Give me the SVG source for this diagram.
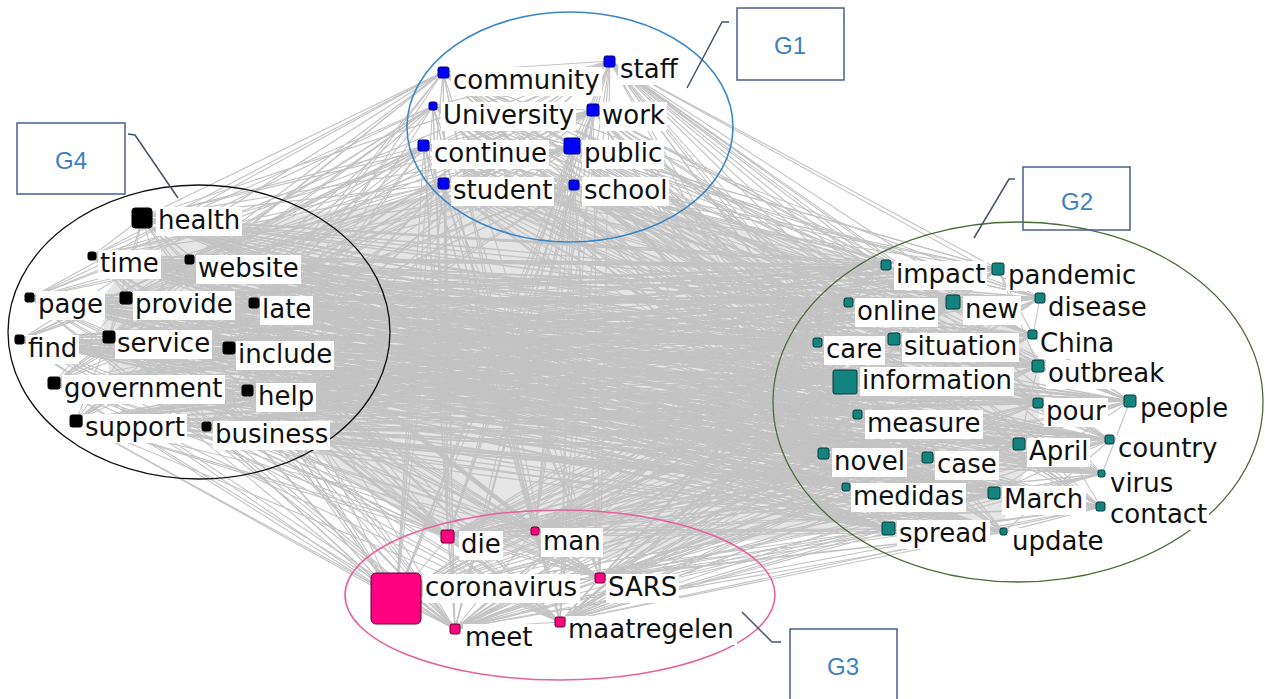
<svg xmlns="http://www.w3.org/2000/svg" width="1265" height="699" viewBox="0 0 1265 699">
<style>
.e{fill:none;stroke:#c3c3c3;stroke-width:1.1;stroke-linejoin:round}
.m{stroke-width:1.4}
.lb{fill:#fff}
.t{font-family:"DejaVu Sans",Verdana,sans-serif;font-size:26px;fill:#111}
.g1{fill:#0000ff;stroke:#000070;stroke-width:1}
.g2{fill:#13837f;stroke:#063b38;stroke-width:1}
.g3{fill:#ff0080;stroke:#5c0030;stroke-width:1}
.g4{fill:#000;stroke:#000;stroke-width:1}
.cb{fill:none;stroke:#4a5d91;stroke-width:1.5}
.cl{fill:none;stroke:#44546a;stroke-width:1.5}
.ct{font-family:"Liberation Sans",Arial,sans-serif;font-size:24px;fill:#3d7fc2;text-anchor:middle}
</style>
<rect width="1265" height="699" fill="#fff"/>
<g id="connectors">
<polygon points="150,240 300,215 440,195 580,195 760,230 886,265 1000,300 1040,360 1038,440 1004,520 889,529 700,545 600,560 450,545 300,445 207,427 110,380 100,300" fill="#c6c6c6" opacity="0.45"/>
<path class="e m" d="M142 218L886 265 126 298 998 269 229 348 849 303 207 427 953 302 30 298 1040 298 109 337 818 343 76 421 894 339 190 260 1033 335 20 340 845 382 248 391 1038 366 92 256 858 415 254 303 1038 403 54 383 1130 401 142 218 824 454 126 298 928 458 229 348 1019 444 207 427 1110 440 30 298 1102 474 109 337 846 487 76 421 994 493 190 260 1101 507 20 340 889 529 248 391 1004 532 92 256"/>
<path class="e m" d="M229 348L886 265 207 427 998 269 30 298 849 303 109 337 953 302 76 421 1040 298 190 260 818 343 20 340 894 339 248 391 1033 335 92 256 845 382 254 303 1038 366 54 383 858 415 142 218 1038 403 126 298 1130 401 229 348 824 454 207 427 928 458 30 298 1019 444 109 337 1110 440 76 421 1102 474 190 260 846 487 20 340 994 493 248 391 1101 507 92 256 889 529 254 303 1004 532 54 383"/>
<path class="e m" d="M30 298L886 265 109 337 998 269 76 421 849 303 190 260 953 302 20 340 1040 298 248 391 818 343 92 256 894 339 254 303 1033 335 54 383 845 382 142 218 1038 366 126 298 858 415 229 348 1038 403 207 427 1130 401 30 298 824 454 109 337 928 458 76 421 1019 444 190 260 1110 440 20 340 1102 474 248 391 846 487 92 256 994 493 254 303 1101 507 54 383 889 529 142 218 1004 532 126 298"/>
<path class="e m" d="M76 421L886 265 190 260 998 269 20 340 849 303 248 391 953 302 92 256 1040 298 254 303 818 343 54 383 894 339 142 218 1033 335 126 298 845 382 229 348 1038 366 207 427 858 415 30 298 1038 403 109 337 1130 401 76 421 824 454 190 260 928 458 20 340 1019 444 248 391 1110 440 92 256 1102 474 254 303 846 487 54 383 994 493 142 218 1101 507 126 298 889 529 229 348 1004 532 207 427"/>
<path class="e m" d="M20 340L886 265 248 391 998 269 92 256 849 303 254 303 953 302 54 383 1040 298 142 218 818 343 126 298 894 339 229 348 1033 335 207 427 845 382 30 298 1038 366 109 337 858 415 76 421 1038 403 190 260 1130 401 20 340 824 454 248 391 928 458 92 256 1019 444 254 303 1110 440 54 383 1102 474 142 218 846 487 126 298 994 493 229 348 1101 507 207 427 889 529 30 298 1004 532 109 337"/>
<path class="e m" d="M92 256L886 265 254 303 998 269 54 383 849 303 142 218 953 302 126 298 1040 298 229 348 818 343 207 427 894 339 30 298 1033 335 109 337 845 382 76 421 1038 366 190 260 858 415 20 340 1038 403 248 391 1130 401 92 256 824 454 254 303 928 458 54 383 1019 444 142 218 1110 440 126 298 1102 474 229 348 846 487 207 427 994 493 30 298 1101 507 109 337 889 529 76 421 1004 532 190 260"/>
<path class="e m" d="M54 383L886 265 142 218 998 269 126 298 849 303 229 348 953 302 207 427 1040 298 30 298 818 343 109 337 894 339 76 421 1033 335 190 260 845 382 20 340 1038 366 248 391 858 415 92 256 1038 403 254 303 1130 401 54 383 824 454 142 218 928 458 126 298 1019 444 229 348 1110 440 207 427 1102 474 30 298 846 487 109 337 994 493 76 421 1101 507 190 260 889 529 20 340 1004 532 248 391"/>
<path class="e" d="M443 72L886 265 610 61 998 269 433 106 849 303 593 110 953 302 424 146 1040 298 572 146 818 343 444 184 894 339 574 185 1033 335 443 72 845 382 610 61 1038 366 433 106 858 415 593 110 1038 403 424 146 1130 401 572 146 824 454 444 184 928 458 574 185 1019 444 443 72 1110 440 610 61 1102 474 433 106 846 487 593 110 994 493 424 146 1101 507 572 146 889 529 444 184 1004 532 574 185"/>
<path class="e" d="M593 110L886 265 424 146 998 269 572 146 849 303 444 184 953 302 574 185 1040 298 443 72 818 343 610 61 894 339 433 106 1033 335 593 110 845 382 424 146 1038 366 572 146 858 415 444 184 1038 403 574 185 1130 401 443 72 824 454 610 61 928 458 433 106 1019 444 593 110 1110 440 424 146 1102 474 572 146 846 487 444 184 994 493 574 185 1101 507 443 72 889 529 610 61 1004 532 433 106"/>
<path class="e" d="M572 146L886 265 444 184 998 269 574 185 849 303 443 72 953 302 610 61 1040 298 433 106 818 343 593 110 894 339 424 146 1033 335 572 146 845 382 444 184 1038 366 574 185 858 415 443 72 1038 403 610 61 1130 401 433 106 824 454 593 110 928 458 424 146 1019 444 572 146 1110 440 444 184 1102 474 574 185 846 487 443 72 994 493 610 61 1101 507 433 106 889 529 593 110 1004 532 424 146"/>
<path class="e" d="M443 72L142 218 610 61 126 298 433 106 229 348 593 110 207 427 424 146 30 298 572 146 109 337 444 184 76 421 574 185 190 260 443 72 20 340 610 61 248 391 433 106 92 256 593 110 254 303 424 146 54 383 572 146"/>
<path class="e" d="M593 110L142 218 424 146 126 298 572 146 229 348 444 184 207 427 574 185 30 298 443 72 109 337 610 61 76 421 433 106 190 260 593 110 20 340 424 146 248 391 572 146 92 256 444 184 254 303 574 185 54 383 443 72"/>
<path class="e" d="M572 146L142 218 444 184 126 298 574 185 229 348 443 72 207 427 610 61 30 298 433 106 109 337 593 110 76 421 424 146 190 260 572 146 20 340 444 184 248 391 574 185 92 256 443 72 254 303 610 61 54 383 433 106"/>
<path class="e" d="M448 537L886 265 535 530 998 269 396 599 849 303 600 578 953 302 455 629 1040 298 560 622 818 343 448 537 894 339 535 530 1033 335 396 599 845 382 600 578 1038 366 455 629 858 415 560 622 1038 403 448 537 1130 401 535 530 824 454 396 599 928 458 600 578 1019 444 455 629 1110 440 560 622 1102 474 448 537 846 487 535 530 994 493 396 599 1101 507 600 578 889 529 455 629 1004 532 560 622"/>
<path class="e" d="M396 599L886 265 600 578 998 269 455 629 849 303 560 622 953 302 448 537 1040 298 535 530 818 343 396 599 894 339 600 578 1033 335 455 629 845 382 560 622 1038 366 448 537 858 415 535 530 1038 403 396 599 1130 401 600 578 824 454 455 629 928 458 560 622 1019 444 448 537 1110 440 535 530 1102 474 396 599 846 487 600 578 994 493 455 629 1101 507 560 622 889 529 448 537 1004 532 535 530"/>
<path class="e" d="M455 629L886 265 560 622 998 269 448 537 849 303 535 530 953 302 396 599 1040 298 600 578 818 343 455 629 894 339 560 622 1033 335 448 537 845 382 535 530 1038 366 396 599 858 415 600 578 1038 403 455 629 1130 401 560 622 824 454 448 537 928 458 535 530 1019 444 396 599 1110 440 600 578 1102 474 455 629 846 487 560 622 994 493 448 537 1101 507 535 530 889 529 396 599 1004 532 600 578"/>
<path class="e" d="M448 537L142 218 535 530 126 298 396 599 229 348 600 578 207 427 455 629 30 298 560 622 109 337 448 537 76 421 535 530 190 260 396 599 20 340 600 578 248 391 455 629 92 256 560 622 254 303 448 537 54 383 535 530"/>
<path class="e" d="M396 599L142 218 600 578 126 298 455 629 229 348 560 622 207 427 448 537 30 298 535 530 109 337 396 599 76 421 600 578 190 260 455 629 20 340 560 622 248 391 448 537 92 256 535 530 254 303 396 599 54 383 600 578"/>
<path class="e" d="M455 629L142 218 560 622 126 298 448 537 229 348 535 530 207 427 396 599 30 298 600 578 109 337 455 629 76 421 560 622 190 260 448 537 20 340 535 530 248 391 396 599 92 256 600 578 254 303 455 629 54 383 560 622"/>
<path class="e" d="M448 537L443 72 535 530 610 61 396 599 433 106 600 578 593 110 455 629 424 146 560 622 572 146 448 537 444 184 535 530 574 185 396 599"/>
<path class="e" d="M396 599L443 72 600 578 610 61 455 629 433 106 560 622 593 110 448 537 424 146 535 530 572 146 396 599 444 184 600 578 574 185 455 629"/>
<path class="e" d="M455 629L443 72 560 622 610 61 448 537 433 106 535 530 593 110 396 599 424 146 600 578 572 146 455 629 444 184 560 622 574 185 448 537"/>
<path class="e" d="M142 218L92 256 254 303 30 298 229 348 20 340 248 391 54 383 207 427 76 421 190 260 109 337 126 298 142 218 207 427 20 340 190 260 30 298 248 391 92 256 229 348 54 383 126 298 254 303 76 421 109 337 142 218"/>
<path class="e" d="M1130 401L1019 444 1110 440 994 493 1102 474 1038 403 1101 507 1019 444 1038 366 1130 401 1038 403 1110 440 1004 532 1101 507 994 493 1130 401 1102 474 1019 444 1130 401 1033 335 953 302 1040 298 1033 335 998 269 1038 366 886 265 953 302 1038 403 894 339 1019 444 928 458 994 493 889 529 1004 532 846 487 824 454 845 382"/>
<path class="e" d="M443 72L610 61 433 106 593 110 424 146 572 146 444 184 574 185 443 72 572 146 610 61 444 184 593 110 424 146 574 185 433 106 572 146"/>
<path class="e" d="M396 599L448 537 535 530 600 578 560 622 455 629 396 599 600 578 448 537 560 622 535 530 455 629 448 537"/>
</g>
<g id="clusters">
<ellipse id="ring-g1" cx="570" cy="127" rx="163" ry="115" fill="none" stroke="#3a86c8" stroke-width="1.6"/>
<ellipse id="ring-g4" cx="199" cy="332" rx="191" ry="147" fill="none" stroke="#111" stroke-width="1.3"/>
<ellipse id="ring-g2" cx="1018" cy="402" rx="245" ry="180" fill="none" stroke="#4b6b35" stroke-width="1.3"/>
<ellipse id="ring-g3" cx="560" cy="595" rx="215" ry="85" fill="none" stroke="#e8609e" stroke-width="1.6"/>
</g>
<g id="callout-g1"><polyline class="cl" points="687,88 722,22 729,22"/><rect class="cb" x="737" y="8" width="107" height="72"/><text class="ct" x="790" y="54">G1</text></g>
<g id="callout-g2"><polyline class="cl" points="974,238 1009,179 1015,179"/><rect class="cb" x="1023" y="167" width="107" height="63"/><text class="ct" x="1077" y="210">G2</text></g>
<g id="callout-g4"><polyline class="cl" points="128,134 135,135 178,198"/><rect class="cb" x="17" y="123" width="108" height="71"/><text class="ct" x="71" y="169">G4</text></g>
<g id="callout-g3"><polyline class="cl" points="742,612 772,642 781,642"/><rect class="cb" x="790" y="629" width="107" height="72"/><text class="ct" x="843" y="675">G3</text></g>
<g id="n-community"><rect class="lb" x="451" y="67" width="151" height="29"/><rect class="g1" x="438" y="67" width="11" height="11" rx="2"/><text class="t" x="453" y="89">community</text></g>
<g id="n-staff"><rect class="lb" x="618" y="56" width="62" height="29"/><rect class="g1" x="604" y="56" width="11" height="11" rx="2"/><text class="t" x="620" y="78">staff</text></g>
<g id="n-University"><rect class="lb" x="441" y="102" width="135" height="29"/><rect class="g1" x="429" y="102" width="8" height="8" rx="2"/><text class="t" x="443" y="124">University</text></g>
<g id="n-work"><rect class="lb" x="600" y="102" width="67" height="29"/><rect class="g1" x="587" y="104" width="12" height="12" rx="2"/><text class="t" x="602" y="124">work</text></g>
<g id="n-continue"><rect class="lb" x="432" y="140" width="117" height="29"/><rect class="g1" x="418" y="140" width="11" height="11" rx="2"/><text class="t" x="434" y="162">continue</text></g>
<g id="n-public"><rect class="lb" x="582" y="140" width="82" height="29"/><rect class="g1" x="564" y="138" width="16" height="16" rx="2"/><text class="t" x="584" y="162">public</text></g>
<g id="n-student"><rect class="lb" x="451" y="177" width="103" height="29"/><rect class="g1" x="438" y="178" width="11" height="11" rx="2"/><text class="t" x="453" y="199">student</text></g>
<g id="n-school"><rect class="lb" x="582" y="177" width="87" height="29"/><rect class="g1" x="569" y="180" width="10" height="10" rx="2"/><text class="t" x="584" y="199">school</text></g>
<g id="n-health"><rect class="lb" x="156" y="207" width="86" height="29"/><rect class="g4" x="132" y="208" width="20" height="20" rx="3"/><text class="t" x="158" y="229">health</text></g>
<g id="n-time"><rect class="lb" x="98" y="250" width="63" height="29"/><rect class="g4" x="88" y="252" width="8" height="8" rx="2"/><text class="t" x="100" y="272">time</text></g>
<g id="n-website"><rect class="lb" x="196" y="255" width="105" height="29"/><rect class="g4" x="185" y="255" width="9" height="9" rx="2"/><text class="t" x="198" y="277">website</text></g>
<g id="n-page"><rect class="lb" x="36" y="291" width="69" height="29"/><rect class="g4" x="25" y="293" width="9" height="9" rx="2"/><text class="t" x="38" y="313">page</text></g>
<g id="n-provide"><rect class="lb" x="133" y="291" width="102" height="29"/><rect class="g4" x="120" y="292" width="12" height="12" rx="2"/><text class="t" x="135" y="313">provide</text></g>
<g id="n-late"><rect class="lb" x="260" y="296" width="53" height="29"/><rect class="g4" x="249" y="298" width="10" height="10" rx="2"/><text class="t" x="262" y="318">late</text></g>
<g id="n-find"><rect class="lb" x="26" y="335" width="53" height="29"/><rect class="g4" x="15" y="335" width="9" height="9" rx="2"/><text class="t" x="28" y="357">find</text></g>
<g id="n-service"><rect class="lb" x="115" y="330" width="97" height="29"/><rect class="g4" x="103" y="331" width="12" height="12" rx="2"/><text class="t" x="117" y="352">service</text></g>
<g id="n-include"><rect class="lb" x="236" y="341" width="98" height="29"/><rect class="g4" x="223" y="342" width="12" height="12" rx="2"/><text class="t" x="238" y="363">include</text></g>
<g id="n-government"><rect class="lb" x="62" y="375" width="163" height="29"/><rect class="g4" x="48" y="377" width="12" height="12" rx="2"/><text class="t" x="64" y="397">government</text></g>
<g id="n-help"><rect class="lb" x="256" y="383" width="60" height="29"/><rect class="g4" x="242" y="385" width="11" height="11" rx="2"/><text class="t" x="258" y="405">help</text></g>
<g id="n-support"><rect class="lb" x="83" y="414" width="104" height="29"/><rect class="g4" x="70" y="415" width="12" height="12" rx="2"/><text class="t" x="85" y="436">support</text></g>
<g id="n-business"><rect class="lb" x="213" y="421" width="117" height="29"/><rect class="g4" x="202" y="422" width="9" height="9" rx="2"/><text class="t" x="215" y="443">business</text></g>
<g id="n-impact"><rect class="lb" x="894" y="261" width="93" height="29"/><rect class="g2" x="881" y="260" width="10" height="10" rx="2"/><text class="t" x="896" y="283">impact</text></g>
<g id="n-pandemic"><rect class="lb" x="1006" y="262" width="132" height="29"/><rect class="g2" x="992" y="263" width="12" height="12" rx="2"/><text class="t" x="1008" y="284">pandemic</text></g>
<g id="n-online"><rect class="lb" x="855" y="298" width="83" height="29"/><rect class="g2" x="844" y="298" width="9" height="9" rx="2"/><text class="t" x="857" y="320">online</text></g>
<g id="n-new"><rect class="lb" x="963" y="296" width="58" height="29"/><rect class="g2" x="946" y="295" width="14" height="14" rx="2"/><text class="t" x="965" y="318">new</text></g>
<g id="n-disease"><rect class="lb" x="1046" y="294" width="103" height="29"/><rect class="g2" x="1035" y="293" width="10" height="10" rx="2"/><text class="t" x="1048" y="316">disease</text></g>
<g id="n-care"><rect class="lb" x="824" y="336" width="61" height="29"/><rect class="g2" x="813" y="338" width="9" height="9" rx="2"/><text class="t" x="826" y="358">care</text></g>
<g id="n-situation"><rect class="lb" x="902" y="333" width="117" height="29"/><rect class="g2" x="888" y="333" width="12" height="12" rx="2"/><text class="t" x="904" y="355">situation</text></g>
<g id="n-China"><rect class="lb" x="1038" y="330" width="78" height="29"/><rect class="g2" x="1028" y="330" width="9" height="9" rx="2"/><text class="t" x="1040" y="352">China</text></g>
<g id="n-information"><rect class="lb" x="860" y="367" width="154" height="29"/><rect class="g2" x="833" y="370" width="24" height="24" rx="2"/><text class="t" x="862" y="389">information</text></g>
<g id="n-outbreak"><rect class="lb" x="1046" y="360" width="121" height="29"/><rect class="g2" x="1032" y="360" width="12" height="12" rx="2"/><text class="t" x="1048" y="382">outbreak</text></g>
<g id="n-measure"><rect class="lb" x="865" y="410" width="118" height="29"/><rect class="g2" x="853" y="410" width="9" height="9" rx="2"/><text class="t" x="867" y="432">measure</text></g>
<g id="n-pour"><rect class="lb" x="1044" y="398" width="64" height="29"/><rect class="g2" x="1033" y="398" width="10" height="10" rx="2"/><text class="t" x="1046" y="420">pour</text></g>
<g id="n-people"><rect class="lb" x="1138" y="395" width="92" height="29"/><rect class="g2" x="1124" y="395" width="12" height="12" rx="2"/><text class="t" x="1140" y="417">people</text></g>
<g id="n-novel"><rect class="lb" x="832" y="448" width="75" height="29"/><rect class="g2" x="818" y="448" width="11" height="11" rx="2"/><text class="t" x="834" y="470">novel</text></g>
<g id="n-case"><rect class="lb" x="935" y="451" width="64" height="29"/><rect class="g2" x="922" y="452" width="11" height="11" rx="2"/><text class="t" x="937" y="473">case</text></g>
<g id="n-April"><rect class="lb" x="1027" y="438" width="63" height="29"/><rect class="g2" x="1013" y="438" width="12" height="12" rx="2"/><text class="t" x="1029" y="460">April</text></g>
<g id="n-country"><rect class="lb" x="1116" y="435" width="103" height="29"/><rect class="g2" x="1105" y="435" width="9" height="9" rx="2"/><text class="t" x="1118" y="457">country</text></g>
<g id="n-virus"><rect class="lb" x="1108" y="470" width="67" height="29"/><rect class="g2" x="1098" y="470" width="7" height="7" rx="2"/><text class="t" x="1110" y="492">virus</text></g>
<g id="n-medidas"><rect class="lb" x="851" y="483" width="115" height="29"/><rect class="g2" x="842" y="483" width="8" height="8" rx="2"/><text class="t" x="853" y="505">medidas</text></g>
<g id="n-March"><rect class="lb" x="1002" y="486" width="84" height="29"/><rect class="g2" x="988" y="487" width="12" height="12" rx="2"/><text class="t" x="1004" y="508">March</text></g>
<g id="n-contact"><rect class="lb" x="1108" y="501" width="101" height="29"/><rect class="g2" x="1096" y="502" width="9" height="9" rx="2"/><text class="t" x="1110" y="523">contact</text></g>
<g id="n-spread"><rect class="lb" x="897" y="520" width="93" height="29"/><rect class="g2" x="882" y="522" width="13" height="13" rx="2"/><text class="t" x="899" y="542">spread</text></g>
<g id="n-update"><rect class="lb" x="1010" y="528" width="96" height="29"/><rect class="g2" x="1000" y="528" width="7" height="7" rx="2"/><text class="t" x="1012" y="550">update</text></g>
<g id="n-die"><rect class="lb" x="459" y="531" width="44" height="29"/><rect class="g3" x="441" y="530" width="13" height="13" rx="2"/><text class="t" x="461" y="553">die</text></g>
<g id="n-man"><rect class="lb" x="541" y="528" width="62" height="29"/><rect class="g3" x="531" y="527" width="8" height="8" rx="2"/><text class="t" x="543" y="550">man</text></g>
<g id="n-coronavirus"><rect class="lb" x="423" y="574" width="157" height="29"/><rect class="g3" x="371" y="573" width="50" height="51" rx="5"/><text class="t" x="425" y="596">coronavirus</text></g>
<g id="n-SARS"><rect class="lb" x="606" y="574" width="73" height="29"/><rect class="g3" x="595" y="573" width="10" height="10" rx="2"/><text class="t" x="608" y="596">SARS</text></g>
<g id="n-meet"><rect class="lb" x="463" y="624" width="71" height="29"/><rect class="g3" x="450" y="624" width="10" height="10" rx="2"/><text class="t" x="465" y="646">meet</text></g>
<g id="n-maatregelen"><rect class="lb" x="566" y="616" width="171" height="29"/><rect class="g3" x="555" y="617" width="10" height="10" rx="2"/><text class="t" x="568" y="638">maatregelen</text></g>
</svg>
